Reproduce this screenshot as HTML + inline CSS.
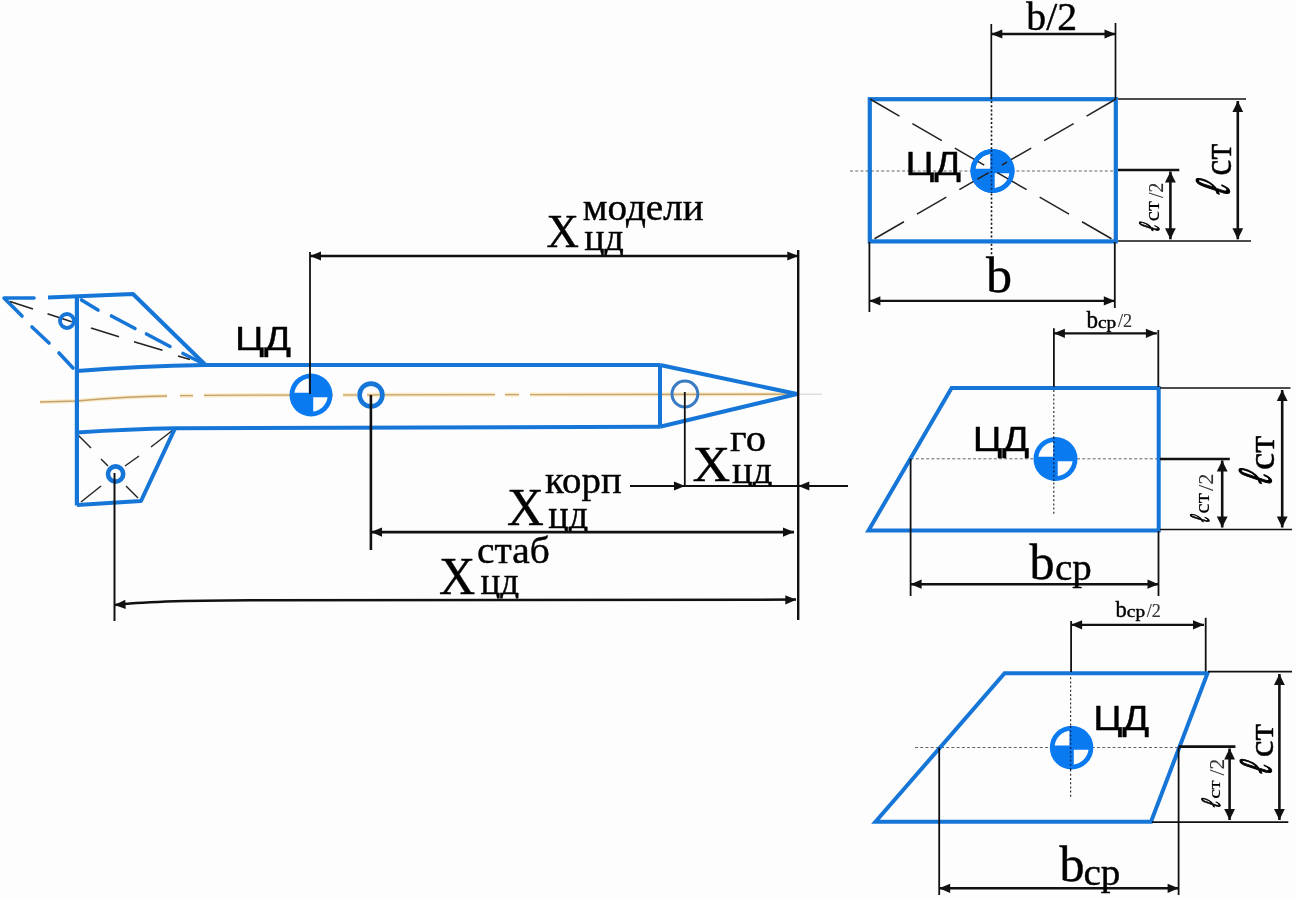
<!DOCTYPE html><html><head><meta charset="utf-8"><style>html,body{margin:0;padding:0;background:#fdfdfd;overflow:hidden}svg{display:block}</style></head><body><svg width="1296" height="900" viewBox="0 0 1296 900"><path d="M40,402 L77,401 Q125,396.3 167,396" fill="none" stroke="#f9ebc6" stroke-width="4.2" stroke-linecap="butt"/>
<path d="M180,395.7 L193,395.6" fill="none" stroke="#f9ebc6" stroke-width="4.2" stroke-linecap="butt"/>
<path d="M204,395.3 L333,395" fill="none" stroke="#f9ebc6" stroke-width="4.2" stroke-linecap="butt"/>
<path d="M343,395 L357,395" fill="none" stroke="#f9ebc6" stroke-width="4.2" stroke-linecap="butt"/>
<path d="M367,394.9 L495,394.7" fill="none" stroke="#f9ebc6" stroke-width="4.2" stroke-linecap="butt"/>
<path d="M505,394.7 L519,394.6" fill="none" stroke="#f9ebc6" stroke-width="4.2" stroke-linecap="butt"/>
<path d="M530,394.6 L798,394.2" fill="none" stroke="#f9ebc6" stroke-width="4.2" stroke-linecap="butt"/>
<path d="M40,402 L77,401 Q125,396.3 167,396" fill="none" stroke="#c4a270" stroke-width="1.3" stroke-linecap="butt"/>
<path d="M180,395.7 L193,395.6" fill="none" stroke="#c4a270" stroke-width="1.3" stroke-linecap="butt"/>
<path d="M204,395.3 L333,395" fill="none" stroke="#c4a270" stroke-width="1.3" stroke-linecap="butt"/>
<path d="M343,395 L357,395" fill="none" stroke="#c4a270" stroke-width="1.3" stroke-linecap="butt"/>
<path d="M367,394.9 L495,394.7" fill="none" stroke="#c4a270" stroke-width="1.3" stroke-linecap="butt"/>
<path d="M505,394.7 L519,394.6" fill="none" stroke="#c4a270" stroke-width="1.3" stroke-linecap="butt"/>
<path d="M530,394.6 L798,394.2" fill="none" stroke="#c4a270" stroke-width="1.3" stroke-linecap="butt"/>
<line x1="798" y1="394.2" x2="822" y2="394.2" stroke="#cfcfcf" stroke-width="1" />
<path d="M48,297.6 L133,294 L205,364.5" fill="none" stroke="#1676d8" stroke-width="4" stroke-linejoin="round"/>
<path d="M4,298 L34,298" fill="none" stroke="#1676d8" stroke-width="3.6" stroke-linecap="round"/>
<path d="M5,299 L22,316" fill="none" stroke="#1676d8" stroke-width="3.6" stroke-linecap="round"/>
<path d="M32,327 L49,343" fill="none" stroke="#1676d8" stroke-width="3.6" stroke-linecap="round"/>
<path d="M59,353 L73,368" fill="none" stroke="#1676d8" stroke-width="3.6" stroke-linecap="round"/>
<path d="M81.5,300 L98,310" fill="none" stroke="#1676d8" stroke-width="3.6" stroke-linecap="round"/>
<path d="M111.5,316 L135,328.5" fill="none" stroke="#1676d8" stroke-width="3.6" stroke-linecap="round"/>
<path d="M146.5,334 L170,346.5" fill="none" stroke="#1676d8" stroke-width="3.6" stroke-linecap="round"/>
<path d="M183,353.5 L200,362" fill="none" stroke="#1676d8" stroke-width="3.6" stroke-linecap="round"/>
<path d="M10,301.5 L33,309" fill="none" stroke="#222" stroke-width="1.5" />
<path d="M47.5,313.8 L71.7,321.7" fill="none" stroke="#222" stroke-width="1.5" />
<path d="M91,328 L119,336.7" fill="none" stroke="#222" stroke-width="1.5" />
<path d="M134,341.7 L162.5,350.3" fill="none" stroke="#222" stroke-width="1.5" />
<path d="M178,356 L190,359.5" fill="none" stroke="#222" stroke-width="1.5" />
<circle cx="67" cy="321" r="7" fill="none" stroke="#1676d8" stroke-width="3.8"/>
<path d="M77.5,434.5 L91,448" fill="none" stroke="#222" stroke-width="1.4" />
<path d="M101,459 L108,466" fill="none" stroke="#222" stroke-width="1.4" />
<path d="M126,486 L138,498" fill="none" stroke="#222" stroke-width="1.4" />
<path d="M151,447 L173,430" fill="none" stroke="#222" stroke-width="1.4" />
<path d="M125,466 L139,456" fill="none" stroke="#222" stroke-width="1.4" />
<path d="M81,502 L101,486" fill="none" stroke="#222" stroke-width="1.4" />
<path d="M76.9,297.5 L76.9,505.5" fill="none" stroke="#1676d8" stroke-width="4.2" />
<path d="M77,371 Q140,366 205,365 L660,365" fill="none" stroke="#1676d8" stroke-width="4" />
<path d="M77,432.5 Q130,429 175,428.3 L660,426.8" fill="none" stroke="#1676d8" stroke-width="4" />
<path d="M660,365 L660,426.8" fill="none" stroke="#1676d8" stroke-width="4" />
<path d="M660,365 L797,394 L660,426.8" fill="none" stroke="#1676d8" stroke-width="4" stroke-linejoin="miter"/>
<path d="M175,428.3 L141,501 L77,505" fill="none" stroke="#1676d8" stroke-width="4" stroke-linejoin="round"/>
<circle cx="115.6" cy="474" r="7.6" fill="none" stroke="#1676d8" stroke-width="4.6"/>
<circle cx="684.9" cy="394" r="12.9" fill="none" stroke="#3a7cc4" stroke-width="3"/>
<circle cx="371" cy="395" r="11.4" fill="none" stroke="#1676d8" stroke-width="4.6"/>
<circle cx="311" cy="395" r="21.5" fill="#0a7af0"/>
<path d="M308.80,392.80 L294.30,392.80 L294.32,392.80 L294.39,392.80 L294.51,392.39 L294.66,391.53 L294.87,390.68 L295.12,389.84 L295.41,389.02 L295.74,388.21 L296.12,387.42 L296.54,386.65 L296.99,385.90 L297.49,385.18 L298.02,384.49 L298.59,383.83 L299.19,383.19 L299.83,382.59 L300.49,382.02 L301.18,381.49 L301.90,380.99 L302.65,380.54 L303.42,380.12 L304.21,379.74 L305.02,379.41 L305.84,379.12 L306.68,378.87 L307.53,378.66 L308.39,378.51 L308.80,378.39 L308.80,378.32 L308.80,378.30 Z" fill="#fdfdfd"/>
<path d="M313.20,397.20 L327.70,397.20 L327.68,397.20 L327.61,397.20 L327.49,397.61 L327.34,398.47 L327.13,399.32 L326.88,400.16 L326.59,400.98 L326.26,401.79 L325.88,402.58 L325.46,403.35 L325.01,404.10 L324.51,404.82 L323.98,405.51 L323.41,406.17 L322.81,406.81 L322.17,407.41 L321.51,407.98 L320.82,408.51 L320.10,409.01 L319.35,409.46 L318.58,409.88 L317.79,410.26 L316.98,410.59 L316.16,410.88 L315.32,411.13 L314.47,411.34 L313.61,411.49 L313.20,411.61 L313.20,411.68 L313.20,411.70 Z" fill="#fdfdfd"/>
<line x1="310" y1="252" x2="310" y2="394" stroke="#111" stroke-width="1.8" />
<line x1="798.2" y1="250" x2="798.2" y2="620" stroke="#111" stroke-width="2.4" />
<line x1="310" y1="256" x2="798.3" y2="256" stroke="#111" stroke-width="2.5" />
<path d="M310.00,256.00 L321.00,251.40 L321.00,260.60 Z" fill="#111"/>
<path d="M798.30,256.00 L787.30,260.60 L787.30,251.40 Z" fill="#111"/>
<line x1="370.9" y1="395" x2="370.9" y2="550" stroke="#111" stroke-width="2.6" />
<line x1="371" y1="532.1" x2="794" y2="532.1" stroke="#111" stroke-width="2.6" />
<path d="M371.00,532.10 L382.00,527.50 L382.00,536.70 Z" fill="#111"/>
<path d="M794.00,532.10 L783.00,536.70 L783.00,527.50 Z" fill="#111"/>
<line x1="684.8" y1="392" x2="684.8" y2="486" stroke="#111" stroke-width="1.8" />
<line x1="630" y1="486" x2="685" y2="486" stroke="#111" stroke-width="2.2" />
<path d="M685.00,486.00 L674.00,490.60 L674.00,481.40 Z" fill="#111"/>
<line x1="685" y1="486" x2="798" y2="486" stroke="#111" stroke-width="2.2" />
<line x1="798" y1="486" x2="848" y2="486" stroke="#111" stroke-width="2.2" />
<path d="M798.30,486.00 L809.30,481.40 L809.30,490.60 Z" fill="#111"/>
<line x1="114.5" y1="473" x2="114.5" y2="621" stroke="#111" stroke-width="2.0" />
<path d="M114.5,605 Q150,600.5 250,600.2 L796,599.6" fill="none" stroke="#111" stroke-width="2.5" />
<path d="M114.50,605.00 L125.26,599.86 L125.72,609.04 Z" fill="#111"/>
<path d="M796.30,599.80 L785.30,604.40 L785.30,595.20 Z" fill="#111"/>
<line x1="850" y1="171" x2="1114" y2="171" stroke="#666" stroke-width="1" stroke-dasharray="3 2.2"/>
<line x1="991.5" y1="101" x2="991.5" y2="256" stroke="#111" stroke-width="1.6" stroke-dasharray="2 2.2"/>
<rect x="869.8" y="99.2" width="246" height="142.2" fill="none" stroke="#1676d8" stroke-width="4.2"/>
<circle cx="992.5" cy="171" r="22" fill="#0a7af0"/>
<path d="M990.30,168.80 L975.30,168.80 L975.32,168.80 L975.39,168.80 L975.51,168.31 L975.68,167.42 L975.89,166.55 L976.14,165.68 L976.44,164.84 L976.79,164.00 L977.17,163.19 L977.60,162.40 L978.07,161.63 L978.58,160.89 L979.13,160.18 L979.72,159.49 L980.34,158.84 L980.99,158.22 L981.68,157.63 L982.39,157.08 L983.13,156.57 L983.90,156.10 L984.69,155.67 L985.50,155.29 L986.34,154.94 L987.18,154.64 L988.05,154.39 L988.92,154.18 L989.81,154.01 L990.30,153.89 L990.30,153.82 L990.30,153.80 Z" fill="#fdfdfd"/>
<path d="M994.70,173.20 L1009.70,173.20 L1009.68,173.20 L1009.61,173.20 L1009.49,173.69 L1009.32,174.58 L1009.11,175.45 L1008.86,176.32 L1008.56,177.16 L1008.21,178.00 L1007.83,178.81 L1007.40,179.60 L1006.93,180.37 L1006.42,181.11 L1005.87,181.82 L1005.28,182.51 L1004.66,183.16 L1004.01,183.78 L1003.32,184.37 L1002.61,184.92 L1001.87,185.43 L1001.10,185.90 L1000.31,186.33 L999.50,186.71 L998.66,187.06 L997.82,187.36 L996.95,187.61 L996.08,187.82 L995.19,187.99 L994.70,188.11 L994.70,188.18 L994.70,188.20 Z" fill="#fdfdfd"/>
<line x1="870" y1="99" x2="1116" y2="241.4" stroke="#222" stroke-width="1.5" stroke-dasharray="34 15"/>
<line x1="1116" y1="99" x2="870" y2="241.4" stroke="#222" stroke-width="1.5" stroke-dasharray="34 15"/>
<circle cx="992.5" cy="171" r="19.6" fill="none" stroke="#0a7af0" stroke-width="4.8"/>
<line x1="991.5" y1="150" x2="991.5" y2="193" stroke="#0a2a60" stroke-width="1.6" stroke-dasharray="2 2.2"/>
<line x1="991.3" y1="24" x2="991.3" y2="99" stroke="#111" stroke-width="1.7" />
<line x1="1115.5" y1="23" x2="1115.5" y2="99" stroke="#111" stroke-width="1.7" />
<line x1="991.3" y1="34" x2="1115.5" y2="34" stroke="#111" stroke-width="2.4" />
<path d="M991.30,34.00 L1002.30,29.40 L1002.30,38.60 Z" fill="#111"/>
<path d="M1115.50,34.00 L1104.50,38.60 L1104.50,29.40 Z" fill="#111"/>
<line x1="1118" y1="99" x2="1246" y2="99" stroke="#111" stroke-width="1.7" />
<line x1="1118" y1="241" x2="1251" y2="241" stroke="#111" stroke-width="1.7" />
<line x1="1118" y1="170" x2="1179.3" y2="170" stroke="#111" stroke-width="2.6" />
<line x1="1237.8" y1="101" x2="1237.8" y2="239.3" stroke="#111" stroke-width="2.6" />
<path d="M1237.80,101.00 L1243.20,112.00 L1232.40,112.00 Z" fill="#111"/>
<path d="M1237.80,239.30 L1232.40,228.30 L1243.20,228.30 Z" fill="#111"/>
<line x1="1170.4" y1="171.5" x2="1170.4" y2="239.3" stroke="#111" stroke-width="2.6" />
<path d="M1170.40,171.50 L1175.80,182.50 L1165.00,182.50 Z" fill="#111"/>
<path d="M1170.40,239.30 L1165.00,228.30 L1175.80,228.30 Z" fill="#111"/>
<line x1="869.4" y1="242" x2="869.4" y2="312" stroke="#111" stroke-width="1.8" />
<line x1="1114.8" y1="242" x2="1114.8" y2="308" stroke="#111" stroke-width="1.8" />
<line x1="869.4" y1="300.9" x2="1114.8" y2="300.9" stroke="#111" stroke-width="2.4" />
<path d="M869.40,300.90 L880.40,296.30 L880.40,305.50 Z" fill="#111"/>
<path d="M1114.80,300.90 L1103.80,305.50 L1103.80,296.30 Z" fill="#111"/>
<line x1="910.6" y1="458.8" x2="1158" y2="458.8" stroke="#666" stroke-width="1" stroke-dasharray="3 2.2"/>
<line x1="1053.8" y1="390" x2="1053.8" y2="516" stroke="#333" stroke-width="1.2" stroke-dasharray="2 2.2"/>
<path d="M951.6,388 L1158.7,388 L1158.7,530.5 L868.5,530.5 Z" fill="none" stroke="#1676d8" stroke-width="4" stroke-linejoin="miter"/>
<circle cx="1055.5" cy="459" r="22" fill="#0a7af0"/>
<path d="M1053.30,456.80 L1038.30,456.80 L1038.32,456.80 L1038.39,456.80 L1038.51,456.31 L1038.68,455.42 L1038.89,454.55 L1039.14,453.68 L1039.44,452.84 L1039.79,452.00 L1040.17,451.19 L1040.60,450.40 L1041.07,449.63 L1041.58,448.89 L1042.13,448.18 L1042.72,447.49 L1043.34,446.84 L1043.99,446.22 L1044.68,445.63 L1045.39,445.08 L1046.13,444.57 L1046.90,444.10 L1047.69,443.67 L1048.50,443.29 L1049.34,442.94 L1050.18,442.64 L1051.05,442.39 L1051.92,442.18 L1052.81,442.01 L1053.30,441.89 L1053.30,441.82 L1053.30,441.80 Z" fill="#fdfdfd"/>
<path d="M1057.70,461.20 L1072.70,461.20 L1072.68,461.20 L1072.61,461.20 L1072.49,461.69 L1072.32,462.58 L1072.11,463.45 L1071.86,464.32 L1071.56,465.16 L1071.21,466.00 L1070.83,466.81 L1070.40,467.60 L1069.93,468.37 L1069.42,469.11 L1068.87,469.82 L1068.28,470.51 L1067.66,471.16 L1067.01,471.78 L1066.32,472.37 L1065.61,472.92 L1064.87,473.43 L1064.10,473.90 L1063.31,474.33 L1062.50,474.71 L1061.66,475.06 L1060.82,475.36 L1059.95,475.61 L1059.08,475.82 L1058.19,475.99 L1057.70,476.11 L1057.70,476.18 L1057.70,476.20 Z" fill="#fdfdfd"/>
<line x1="1053.8" y1="437" x2="1053.8" y2="481" stroke="#0a2a60" stroke-width="1.4" stroke-dasharray="2 2.2"/>
<line x1="1053.9" y1="328.3" x2="1053.9" y2="387" stroke="#111" stroke-width="1.8" />
<line x1="1158.3" y1="330" x2="1158.3" y2="387" stroke="#111" stroke-width="1.8" />
<line x1="1053.9" y1="333.3" x2="1156.9" y2="333.3" stroke="#111" stroke-width="2.2" />
<path d="M1053.90,333.30 L1064.90,328.70 L1064.90,337.90 Z" fill="#111"/>
<path d="M1156.90,333.30 L1145.90,337.90 L1145.90,328.70 Z" fill="#111"/>
<line x1="1160" y1="388" x2="1290.5" y2="388" stroke="#111" stroke-width="1.7" />
<line x1="1160" y1="529.5" x2="1292" y2="529.5" stroke="#111" stroke-width="1.7" />
<line x1="1160" y1="459" x2="1229.8" y2="459" stroke="#111" stroke-width="2.6" />
<line x1="1282.2" y1="390" x2="1282.2" y2="527.5" stroke="#111" stroke-width="2.6" />
<path d="M1282.20,390.00 L1287.60,401.00 L1276.80,401.00 Z" fill="#111"/>
<path d="M1282.20,527.50 L1276.80,516.50 L1287.60,516.50 Z" fill="#111"/>
<line x1="1222.2" y1="460.5" x2="1222.2" y2="527.5" stroke="#111" stroke-width="2.6" />
<path d="M1222.20,460.50 L1227.60,471.50 L1216.80,471.50 Z" fill="#111"/>
<path d="M1222.20,527.50 L1216.80,516.50 L1227.60,516.50 Z" fill="#111"/>
<line x1="910.6" y1="458.8" x2="910.6" y2="596" stroke="#111" stroke-width="1.8" />
<line x1="1158.5" y1="531" x2="1158.5" y2="596" stroke="#111" stroke-width="1.8" />
<line x1="910.6" y1="584.2" x2="1158.5" y2="584.2" stroke="#111" stroke-width="2.4" />
<path d="M910.60,584.20 L921.60,579.60 L921.60,588.80 Z" fill="#111"/>
<path d="M1158.50,584.20 L1147.50,588.80 L1147.50,579.60 Z" fill="#111"/>
<line x1="915" y1="747.5" x2="1178" y2="747.5" stroke="#666" stroke-width="1" stroke-dasharray="3 2.2"/>
<line x1="1070.6" y1="673" x2="1070.6" y2="797" stroke="#333" stroke-width="1.2" stroke-dasharray="2 2.2"/>
<path d="M1004.6,673.3 L1207.5,673.3 L1151,821.8 L875.5,821.8 Z" fill="none" stroke="#1676d8" stroke-width="4" stroke-linejoin="miter"/>
<circle cx="1071.6" cy="747.6" r="21.8" fill="#0a7af0"/>
<path d="M1069.40,745.40 L1054.60,745.40 L1054.62,745.40 L1054.69,745.40 L1054.81,744.94 L1054.97,744.07 L1055.18,743.20 L1055.43,742.35 L1055.73,741.51 L1056.07,740.69 L1056.45,739.88 L1056.88,739.10 L1057.34,738.34 L1057.85,737.61 L1058.39,736.90 L1058.97,736.22 L1059.58,735.58 L1060.22,734.97 L1060.90,734.39 L1061.61,733.85 L1062.34,733.34 L1063.10,732.88 L1063.88,732.45 L1064.69,732.07 L1065.51,731.73 L1066.35,731.43 L1067.20,731.18 L1068.07,730.97 L1068.94,730.81 L1069.40,730.69 L1069.40,730.62 L1069.40,730.60 Z" fill="#fdfdfd"/>
<path d="M1073.80,749.80 L1088.60,749.80 L1088.58,749.80 L1088.51,749.80 L1088.39,750.26 L1088.23,751.13 L1088.02,752.00 L1087.77,752.85 L1087.47,753.69 L1087.13,754.51 L1086.75,755.32 L1086.32,756.10 L1085.86,756.86 L1085.35,757.59 L1084.81,758.30 L1084.23,758.98 L1083.62,759.62 L1082.98,760.23 L1082.30,760.81 L1081.59,761.35 L1080.86,761.86 L1080.10,762.32 L1079.32,762.75 L1078.51,763.13 L1077.69,763.47 L1076.85,763.77 L1076.00,764.02 L1075.13,764.23 L1074.26,764.39 L1073.80,764.51 L1073.80,764.58 L1073.80,764.60 Z" fill="#fdfdfd"/>
<line x1="1070.6" y1="726" x2="1070.6" y2="770" stroke="#0a2a60" stroke-width="1.4" stroke-dasharray="2 2.2"/>
<line x1="1071.1" y1="620.9" x2="1071.1" y2="672" stroke="#111" stroke-width="1.8" />
<line x1="1205.7" y1="617.8" x2="1205.7" y2="671.5" stroke="#111" stroke-width="1.8" />
<line x1="1071.1" y1="624.8" x2="1204" y2="624.8" stroke="#111" stroke-width="2.2" />
<path d="M1071.10,624.80 L1082.10,620.20 L1082.10,629.40 Z" fill="#111"/>
<path d="M1204.00,624.80 L1193.00,629.40 L1193.00,620.20 Z" fill="#111"/>
<line x1="1208" y1="671.7" x2="1292" y2="671.7" stroke="#111" stroke-width="1.7" />
<line x1="1152" y1="822.1" x2="1288.3" y2="822.1" stroke="#111" stroke-width="1.7" />
<line x1="1178.6" y1="746.6" x2="1235.4" y2="746.6" stroke="#111" stroke-width="2.6" />
<line x1="1279.4" y1="674" x2="1279.4" y2="820" stroke="#111" stroke-width="2.6" />
<path d="M1279.40,674.00 L1284.80,685.00 L1274.00,685.00 Z" fill="#111"/>
<path d="M1279.40,820.00 L1274.00,809.00 L1284.80,809.00 Z" fill="#111"/>
<line x1="1229.6" y1="748.5" x2="1229.6" y2="820" stroke="#111" stroke-width="2.6" />
<path d="M1229.60,748.50 L1235.00,759.50 L1224.20,759.50 Z" fill="#111"/>
<path d="M1229.60,820.00 L1224.20,809.00 L1235.00,809.00 Z" fill="#111"/>
<line x1="939.2" y1="747.6" x2="939.2" y2="895" stroke="#111" stroke-width="1.8" />
<line x1="1178.6" y1="747.6" x2="1178.6" y2="895" stroke="#111" stroke-width="1.8" />
<line x1="939.2" y1="888.3" x2="1178.6" y2="888.3" stroke="#111" stroke-width="2.4" />
<path d="M939.20,888.30 L950.20,883.70 L950.20,892.90 Z" fill="#111"/>
<path d="M1178.60,888.30 L1167.60,892.90 L1167.60,883.70 Z" fill="#111"/>
<g opacity="0.999">
<text transform="translate(546.40,247.20) scale(0.4485,0.4554)" font-family="Liberation Serif" font-style="normal" font-weight="normal" font-size="100" fill="#000" stroke="#000" stroke-width="0.45" vector-effect="non-scaling-stroke" stroke-linejoin="round">X</text>
<text transform="translate(582.72,219.60) scale(0.3915,0.3851)" font-family="Liberation Serif" font-style="normal" font-weight="normal" font-size="100" fill="#000" stroke="#000" stroke-width="0.45" vector-effect="non-scaling-stroke" stroke-linejoin="round">модели</text>
<clipPath id="c1"><rect x="0" y="0" width="1296" height="255"/></clipPath><g clip-path="url(#c1)"><text transform="translate(584.34,249.60) scale(0.3790,0.3696)" font-family="Liberation Serif" font-style="normal" font-weight="normal" font-size="100" fill="#000" stroke="#000" stroke-width="0.45" vector-effect="non-scaling-stroke" stroke-linejoin="round">цд</text></g>
<text transform="translate(507.08,524.80) scale(0.5103,0.5292)" font-family="Liberation Serif" font-style="normal" font-weight="normal" font-size="100" fill="#000" stroke="#000" stroke-width="0.45" vector-effect="non-scaling-stroke" stroke-linejoin="round">X</text>
<text transform="translate(545.12,492.90) scale(0.3886,0.3830)" font-family="Liberation Serif" font-style="normal" font-weight="normal" font-size="100" fill="#000" stroke="#000" stroke-width="0.45" vector-effect="non-scaling-stroke" stroke-linejoin="round">корп</text>
<clipPath id="c2"><rect x="0" y="0" width="1296" height="531"/></clipPath><g clip-path="url(#c2)"><text transform="translate(548.24,527.50) scale(0.3820,0.3957)" font-family="Liberation Serif" font-style="normal" font-weight="normal" font-size="100" fill="#000" stroke="#000" stroke-width="0.45" vector-effect="non-scaling-stroke" stroke-linejoin="round">цд</text></g>
<text transform="translate(439.00,593.70) scale(0.5015,0.5323)" font-family="Liberation Serif" font-style="normal" font-weight="normal" font-size="100" fill="#000" stroke="#000" stroke-width="0.45" vector-effect="non-scaling-stroke" stroke-linejoin="round">X</text>
<text transform="translate(477.12,562.60) scale(0.3938,0.3833)" font-family="Liberation Serif" font-style="normal" font-weight="normal" font-size="100" fill="#000" stroke="#000" stroke-width="0.45" vector-effect="non-scaling-stroke" stroke-linejoin="round">стаб</text>
<clipPath id="c3"><rect x="0" y="0" width="1296" height="598.5"/></clipPath><g clip-path="url(#c3)"><text transform="translate(480.46,593.70) scale(0.3710,0.3826)" font-family="Liberation Serif" font-style="normal" font-weight="normal" font-size="100" fill="#000" stroke="#000" stroke-width="0.45" vector-effect="non-scaling-stroke" stroke-linejoin="round">цд</text></g>
<text transform="translate(692.46,480.60) scale(0.5221,0.5169)" font-family="Liberation Serif" font-style="normal" font-weight="normal" font-size="100" fill="#000" stroke="#000" stroke-width="0.45" vector-effect="non-scaling-stroke" stroke-linejoin="round">X</text>
<text transform="translate(730.09,450.50) scale(0.4048,0.3787)" font-family="Liberation Serif" font-style="normal" font-weight="normal" font-size="100" fill="#000" stroke="#000" stroke-width="0.45" vector-effect="non-scaling-stroke" stroke-linejoin="round">го</text>
<clipPath id="c4"><rect x="0" y="0" width="1296" height="486"/></clipPath><g clip-path="url(#c4)"><text transform="translate(732.03,482.50) scale(0.3860,0.3696)" font-family="Liberation Serif" font-style="normal" font-weight="normal" font-size="100" fill="#000" stroke="#000" stroke-width="0.45" vector-effect="non-scaling-stroke" stroke-linejoin="round">цд</text></g>
<text transform="translate(234.94,350.20) scale(0.3947,0.3246)" font-family="Liberation Sans" font-style="normal" font-weight="normal" font-size="100" fill="#000" stroke="#000" stroke-width="0.45" vector-effect="non-scaling-stroke" stroke-linejoin="round">ЦД</text>
<text transform="translate(905.47,175.20) scale(0.3909,0.3319)" font-family="Liberation Sans" font-style="normal" font-weight="normal" font-size="100" fill="#000" stroke="#000" stroke-width="0.45" vector-effect="non-scaling-stroke" stroke-linejoin="round">ЦД</text>
<text transform="translate(1026.30,30.10) scale(0.3967,0.4029)" font-family="Liberation Serif" font-style="normal" font-weight="normal" font-size="100" fill="#000" stroke="#000" stroke-width="0.45" vector-effect="non-scaling-stroke" stroke-linejoin="round">b/2</text>
<text transform="translate(986.00,291.60) scale(0.5217,0.5014)" font-family="Liberation Serif" font-style="normal" font-weight="normal" font-size="100" fill="#000" stroke="#000" stroke-width="0.45" vector-effect="non-scaling-stroke" stroke-linejoin="round">b</text>
<text transform="translate(972.71,450.60) scale(0.3992,0.3507)" font-family="Liberation Sans" font-style="normal" font-weight="normal" font-size="100" fill="#000" stroke="#000" stroke-width="0.45" vector-effect="non-scaling-stroke" stroke-linejoin="round">ЦД</text>
<text transform="translate(1093.35,729.80) scale(0.3939,0.3478)" font-family="Liberation Sans" font-style="normal" font-weight="normal" font-size="100" fill="#000" stroke="#000" stroke-width="0.45" vector-effect="non-scaling-stroke" stroke-linejoin="round">ЦД</text>
<text transform="translate(1086.50,327.70) scale(0.2304,0.2449)" font-family="Liberation Serif" font-style="normal" font-weight="normal" font-size="100" fill="#000" stroke="#000" stroke-width="0.45" vector-effect="non-scaling-stroke" stroke-linejoin="round">b</text>
<text transform="translate(1098.03,327.70) scale(0.1931,0.1660)" font-family="Liberation Serif" font-style="normal" font-weight="normal" font-size="100" fill="#000" stroke="#000" stroke-width="0.45" vector-effect="non-scaling-stroke" stroke-linejoin="round">ср</text>
<text transform="translate(1118.00,327.31) scale(0.1819,0.1941)" font-family="Liberation Serif" font-style="normal" font-weight="normal" font-size="100" fill="#333" stroke="#000" stroke-width="0.1" vector-effect="non-scaling-stroke" stroke-linejoin="round">/2</text>
<text transform="translate(1029.40,579.40) scale(0.5000,0.5014)" font-family="Liberation Serif" font-style="normal" font-weight="normal" font-size="100" fill="#000" stroke="#000" stroke-width="0.45" vector-effect="non-scaling-stroke" stroke-linejoin="round">b</text>
<text transform="translate(1054.94,580.20) scale(0.3897,0.3766)" font-family="Liberation Serif" font-style="normal" font-weight="normal" font-size="100" fill="#000" stroke="#000" stroke-width="0.45" vector-effect="non-scaling-stroke" stroke-linejoin="round">ср</text>
<text transform="translate(1115.40,617.20) scale(0.2261,0.2348)" font-family="Liberation Serif" font-style="normal" font-weight="normal" font-size="100" fill="#000" stroke="#000" stroke-width="0.45" vector-effect="non-scaling-stroke" stroke-linejoin="round">b</text>
<text transform="translate(1126.83,617.00) scale(0.1931,0.1660)" font-family="Liberation Serif" font-style="normal" font-weight="normal" font-size="100" fill="#000" stroke="#000" stroke-width="0.45" vector-effect="non-scaling-stroke" stroke-linejoin="round">ср</text>
<text transform="translate(1146.80,616.61) scale(0.1819,0.1941)" font-family="Liberation Serif" font-style="normal" font-weight="normal" font-size="100" fill="#333" stroke="#000" stroke-width="0.1" vector-effect="non-scaling-stroke" stroke-linejoin="round">/2</text>
<text transform="translate(1059.40,881.20) scale(0.5000,0.5014)" font-family="Liberation Serif" font-style="normal" font-weight="normal" font-size="100" fill="#000" stroke="#000" stroke-width="0.45" vector-effect="non-scaling-stroke" stroke-linejoin="round">b</text>
<text transform="translate(1083.44,884.90) scale(0.3908,0.3851)" font-family="Liberation Serif" font-style="normal" font-weight="normal" font-size="100" fill="#000" stroke="#000" stroke-width="0.45" vector-effect="non-scaling-stroke" stroke-linejoin="round">ср</text>
<text transform="translate(1230.80,175.65) rotate(-90) scale(0.3614,0.3979)" font-family="Liberation Serif" font-style="normal" font-weight="normal" font-size="100" fill="#000" stroke="#000" stroke-width="0.45" vector-effect="non-scaling-stroke" stroke-linejoin="round">ст</text>
<text transform="translate(1228.71,196.80) rotate(-90) scale(0.2891,0.4912) skewX(-22)" font-family="Liberation Serif" font-style="italic" font-weight="bold" font-size="100" fill="#000" stroke="#000" stroke-width="1.3" vector-effect="non-scaling-stroke" stroke-linejoin="round">ℓ</text>
<text transform="translate(1159.40,221.21) rotate(-90) scale(0.2277,0.2064)" font-family="Liberation Serif" font-style="normal" font-weight="normal" font-size="100" fill="#000" stroke="#000" stroke-width="0.2" vector-effect="non-scaling-stroke" stroke-linejoin="round">ст</text>
<text transform="translate(1163.29,198.00) rotate(-90) scale(0.1986,0.2059)" font-family="Liberation Serif" font-style="normal" font-weight="normal" font-size="100" fill="#333" stroke="#000" stroke-width="0.1" vector-effect="non-scaling-stroke" stroke-linejoin="round">/2</text>
<text transform="translate(1159.10,232.19) rotate(-90) scale(0.1655,0.2956) skewX(-22)" font-family="Liberation Serif" font-style="italic" font-weight="bold" font-size="100" fill="#000" stroke="#000" stroke-width="0.9" vector-effect="non-scaling-stroke" stroke-linejoin="round">ℓ</text>
<text transform="translate(1273.60,469.96) rotate(-90) scale(0.3904,0.3787)" font-family="Liberation Serif" font-style="normal" font-weight="normal" font-size="100" fill="#000" stroke="#000" stroke-width="0.45" vector-effect="non-scaling-stroke" stroke-linejoin="round">ст</text>
<text transform="translate(1271.32,486.09) rotate(-90) scale(0.2764,0.4779) skewX(-22)" font-family="Liberation Serif" font-style="italic" font-weight="bold" font-size="100" fill="#000" stroke="#000" stroke-width="1.3" vector-effect="non-scaling-stroke" stroke-linejoin="round">ℓ</text>
<text transform="translate(1208.80,513.64) rotate(-90) scale(0.2349,0.2000)" font-family="Liberation Serif" font-style="normal" font-weight="normal" font-size="100" fill="#000" stroke="#000" stroke-width="0.2" vector-effect="non-scaling-stroke" stroke-linejoin="round">ст</text>
<text transform="translate(1213.47,491.00) rotate(-90) scale(0.2264,0.2132)" font-family="Liberation Serif" font-style="normal" font-weight="normal" font-size="100" fill="#333" stroke="#000" stroke-width="0.1" vector-effect="non-scaling-stroke" stroke-linejoin="round">/2</text>
<text transform="translate(1208.52,523.29) rotate(-90) scale(0.1436,0.2809) skewX(-22)" font-family="Liberation Serif" font-style="italic" font-weight="bold" font-size="100" fill="#000" stroke="#000" stroke-width="0.9" vector-effect="non-scaling-stroke" stroke-linejoin="round">ℓ</text>
<text transform="translate(1273.10,757.32) rotate(-90) scale(0.3795,0.3617)" font-family="Liberation Serif" font-style="normal" font-weight="normal" font-size="100" fill="#000" stroke="#000" stroke-width="0.45" vector-effect="non-scaling-stroke" stroke-linejoin="round">ст</text>
<text transform="translate(1271.04,775.59) rotate(-90) scale(0.2545,0.4632) skewX(-22)" font-family="Liberation Serif" font-style="italic" font-weight="bold" font-size="100" fill="#000" stroke="#000" stroke-width="1.3" vector-effect="non-scaling-stroke" stroke-linejoin="round">ℓ</text>
<text transform="translate(1219.90,798.85) rotate(-90) scale(0.2133,0.1766)" font-family="Liberation Serif" font-style="normal" font-weight="normal" font-size="100" fill="#000" stroke="#000" stroke-width="0.2" vector-effect="non-scaling-stroke" stroke-linejoin="round">ст</text>
<text transform="translate(1224.19,775.60) rotate(-90) scale(0.2153,0.2074)" font-family="Liberation Serif" font-style="normal" font-weight="normal" font-size="100" fill="#333" stroke="#000" stroke-width="0.1" vector-effect="non-scaling-stroke" stroke-linejoin="round">/2</text>
<text transform="translate(1219.62,808.47) rotate(-90) scale(0.1636,0.2765) skewX(-22)" font-family="Liberation Serif" font-style="italic" font-weight="bold" font-size="100" fill="#000" stroke="#000" stroke-width="0.9" vector-effect="non-scaling-stroke" stroke-linejoin="round">ℓ</text>
</g></svg></body></html>
